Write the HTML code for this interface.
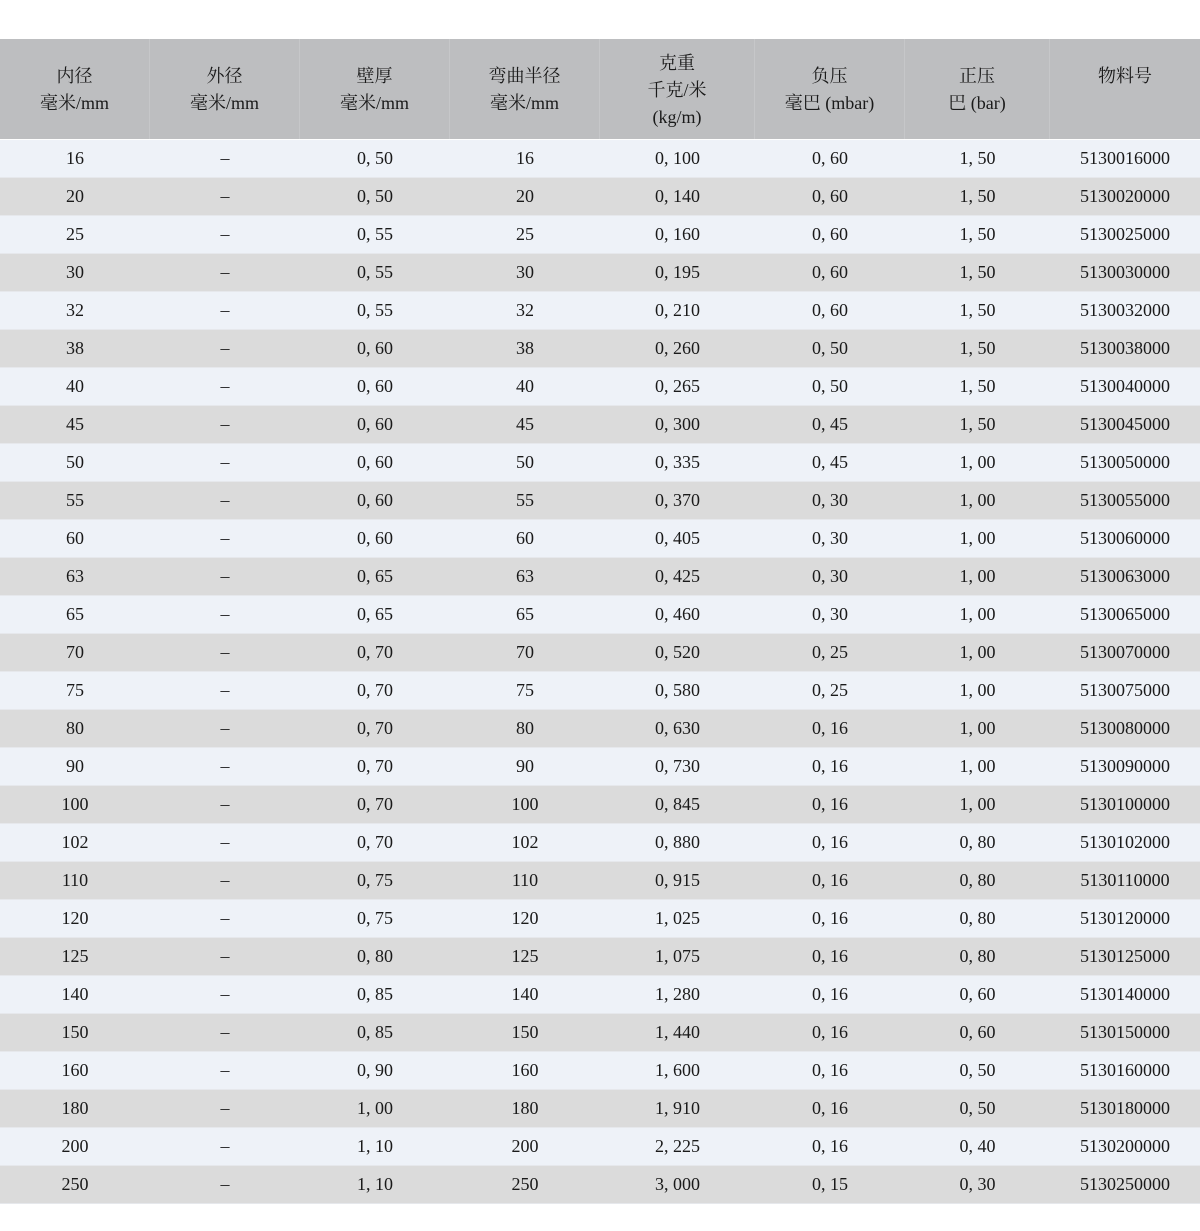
<!DOCTYPE html>
<html><head><meta charset="utf-8"><style>
body{margin:0;width:1200px;height:1231px;background:#fff;position:relative;overflow:hidden;font-family:"Liberation Serif","Noto Serif CJK SC",serif;color:#1a1a1a;}
.hd{position:absolute;left:0;top:39px;width:1200px;height:100px;background:#bdbec0;}
.hd div{position:absolute;top:0;height:100px;text-align:center;font-size:18px;line-height:27px;box-sizing:border-box;border-right:1px solid #c6c7c9;}
table{position:absolute;left:0;top:140px;border-collapse:collapse;width:1200px;table-layout:fixed;font-size:18px;}
td{height:37px;padding:0;text-align:center;border-bottom:1px solid #e6e8ec;}
tr:nth-child(odd) td{background:#eef2f8;}
tr:nth-child(even) td{background:#dbdbdb;}
</style></head><body>
<div class="hd">
<div style="left:0;width:150px;padding-top:24px">内径<br>毫米/mm</div>
<div style="left:150px;width:150px;padding-top:24px">外径<br>毫米/mm</div>
<div style="left:300px;width:150px;padding-top:24px">壁厚<br>毫米/mm</div>
<div style="left:450px;width:150px;padding-top:24px">弯曲半径<br>毫米/mm</div>
<div style="left:600px;width:155px;padding-top:11px">克重<br>千克/米<br>(kg/m)</div>
<div style="left:755px;width:150px;padding-top:24px">负压<br>毫巴 (mbar)</div>
<div style="left:905px;width:145px;padding-top:24px">正压<br>巴 (bar)</div>
<div style="left:1050px;width:150px;padding-top:24px;border:none">物料号</div>
</div>
<table>
<colgroup><col style="width:150px"><col style="width:150px"><col style="width:150px"><col style="width:150px"><col style="width:155px"><col style="width:150px"><col style="width:145px"><col style="width:150px"></colgroup>
<tr><td>16</td><td>–</td><td>0, 50</td><td>16</td><td>0, 100</td><td>0, 60</td><td>1, 50</td><td>5130016000</td></tr>
<tr><td>20</td><td>–</td><td>0, 50</td><td>20</td><td>0, 140</td><td>0, 60</td><td>1, 50</td><td>5130020000</td></tr>
<tr><td>25</td><td>–</td><td>0, 55</td><td>25</td><td>0, 160</td><td>0, 60</td><td>1, 50</td><td>5130025000</td></tr>
<tr><td>30</td><td>–</td><td>0, 55</td><td>30</td><td>0, 195</td><td>0, 60</td><td>1, 50</td><td>5130030000</td></tr>
<tr><td>32</td><td>–</td><td>0, 55</td><td>32</td><td>0, 210</td><td>0, 60</td><td>1, 50</td><td>5130032000</td></tr>
<tr><td>38</td><td>–</td><td>0, 60</td><td>38</td><td>0, 260</td><td>0, 50</td><td>1, 50</td><td>5130038000</td></tr>
<tr><td>40</td><td>–</td><td>0, 60</td><td>40</td><td>0, 265</td><td>0, 50</td><td>1, 50</td><td>5130040000</td></tr>
<tr><td>45</td><td>–</td><td>0, 60</td><td>45</td><td>0, 300</td><td>0, 45</td><td>1, 50</td><td>5130045000</td></tr>
<tr><td>50</td><td>–</td><td>0, 60</td><td>50</td><td>0, 335</td><td>0, 45</td><td>1, 00</td><td>5130050000</td></tr>
<tr><td>55</td><td>–</td><td>0, 60</td><td>55</td><td>0, 370</td><td>0, 30</td><td>1, 00</td><td>5130055000</td></tr>
<tr><td>60</td><td>–</td><td>0, 60</td><td>60</td><td>0, 405</td><td>0, 30</td><td>1, 00</td><td>5130060000</td></tr>
<tr><td>63</td><td>–</td><td>0, 65</td><td>63</td><td>0, 425</td><td>0, 30</td><td>1, 00</td><td>5130063000</td></tr>
<tr><td>65</td><td>–</td><td>0, 65</td><td>65</td><td>0, 460</td><td>0, 30</td><td>1, 00</td><td>5130065000</td></tr>
<tr><td>70</td><td>–</td><td>0, 70</td><td>70</td><td>0, 520</td><td>0, 25</td><td>1, 00</td><td>5130070000</td></tr>
<tr><td>75</td><td>–</td><td>0, 70</td><td>75</td><td>0, 580</td><td>0, 25</td><td>1, 00</td><td>5130075000</td></tr>
<tr><td>80</td><td>–</td><td>0, 70</td><td>80</td><td>0, 630</td><td>0, 16</td><td>1, 00</td><td>5130080000</td></tr>
<tr><td>90</td><td>–</td><td>0, 70</td><td>90</td><td>0, 730</td><td>0, 16</td><td>1, 00</td><td>5130090000</td></tr>
<tr><td>100</td><td>–</td><td>0, 70</td><td>100</td><td>0, 845</td><td>0, 16</td><td>1, 00</td><td>5130100000</td></tr>
<tr><td>102</td><td>–</td><td>0, 70</td><td>102</td><td>0, 880</td><td>0, 16</td><td>0, 80</td><td>5130102000</td></tr>
<tr><td>110</td><td>–</td><td>0, 75</td><td>110</td><td>0, 915</td><td>0, 16</td><td>0, 80</td><td>5130110000</td></tr>
<tr><td>120</td><td>–</td><td>0, 75</td><td>120</td><td>1, 025</td><td>0, 16</td><td>0, 80</td><td>5130120000</td></tr>
<tr><td>125</td><td>–</td><td>0, 80</td><td>125</td><td>1, 075</td><td>0, 16</td><td>0, 80</td><td>5130125000</td></tr>
<tr><td>140</td><td>–</td><td>0, 85</td><td>140</td><td>1, 280</td><td>0, 16</td><td>0, 60</td><td>5130140000</td></tr>
<tr><td>150</td><td>–</td><td>0, 85</td><td>150</td><td>1, 440</td><td>0, 16</td><td>0, 60</td><td>5130150000</td></tr>
<tr><td>160</td><td>–</td><td>0, 90</td><td>160</td><td>1, 600</td><td>0, 16</td><td>0, 50</td><td>5130160000</td></tr>
<tr><td>180</td><td>–</td><td>1, 00</td><td>180</td><td>1, 910</td><td>0, 16</td><td>0, 50</td><td>5130180000</td></tr>
<tr><td>200</td><td>–</td><td>1, 10</td><td>200</td><td>2, 225</td><td>0, 16</td><td>0, 40</td><td>5130200000</td></tr>
<tr><td>250</td><td>–</td><td>1, 10</td><td>250</td><td>3, 000</td><td>0, 15</td><td>0, 30</td><td>5130250000</td></tr>
</table>
</body></html>
